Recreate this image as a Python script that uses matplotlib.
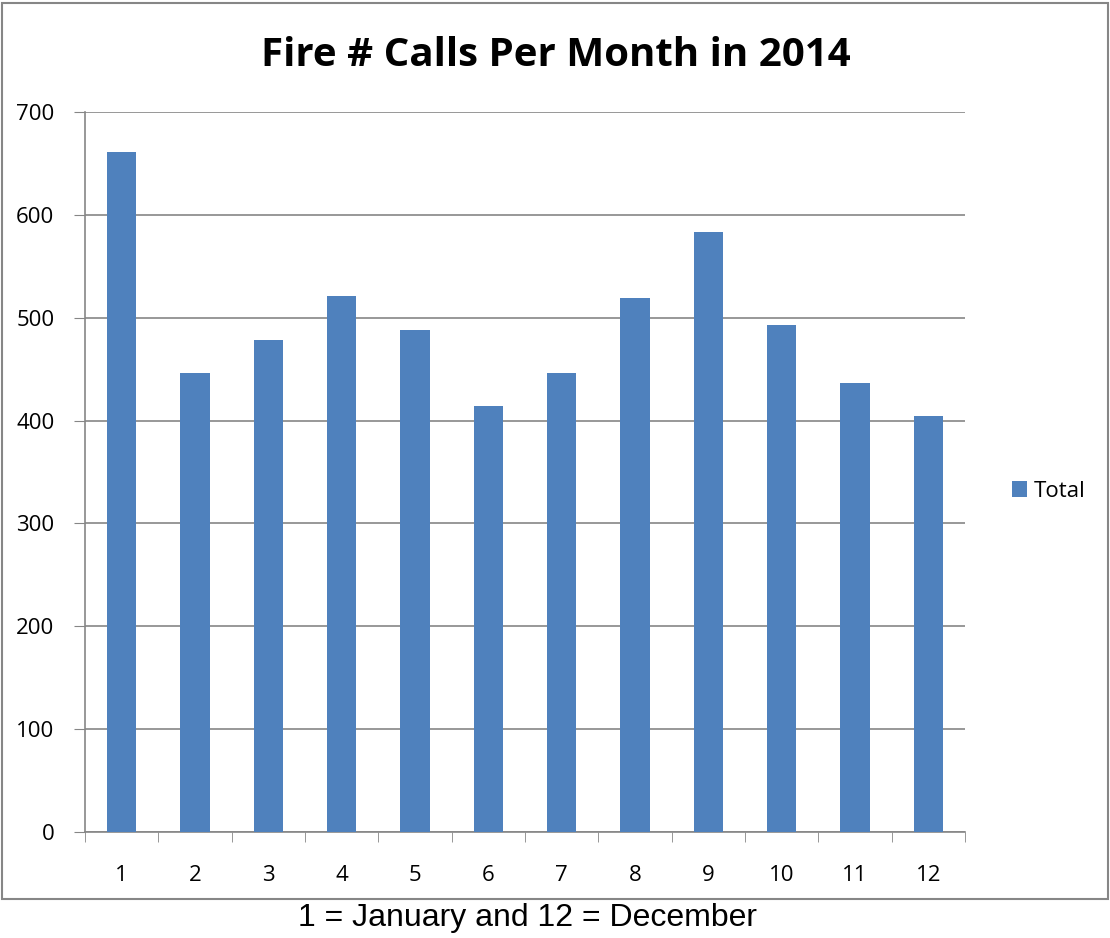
import numpy as np
import matplotlib.pyplot as plt
from matplotlib.patches import Rectangle

months = [str(i) for i in range(1, 13)]
totals = [661, 446, 478, 521, 488, 414, 446, 519, 583, 493, 437, 404]

barColor = '#4F81BD'
gridColor = '#868686'

fig = plt.figure(figsize=(11.1, 9.38), dpi=100)
ax = fig.add_axes([85/1110, 106/938, 880/1110, 720/938])

x = np.arange(len(months))
ax.bar(x, totals, width=0.4, color=barColor, label='Total', zorder=3)

ax.set_xlim(-0.5, len(months) - 0.5)
ax.set_ylim(0, 700)
ax.set_yticks(np.arange(0, 701, 100))
ax.set_xticks(x)
ax.set_xticklabels(months)
ax.set_xticks(np.arange(-0.5, len(months)), minor=True)
ax.tick_params(axis='x', which='major', length=0, pad=24, labelsize=16)
ax.tick_params(axis='x', which='minor', length=7, color=gridColor, direction='out')
ax.tick_params(axis='y', length=8, color=gridColor, pad=14, labelsize=16)
for lbl in ax.get_xticklabels() + ax.get_yticklabels():
    lbl.set_family('Open Sans')

ax.yaxis.grid(True, color=gridColor, linewidth=1.2, zorder=0)
ax.set_axisbelow(True)
for s in ['top', 'right']:
    ax.spines[s].set_visible(False)
for s in ['left', 'bottom']:
    ax.spines[s].set_color(gridColor)
    ax.spines[s].set_linewidth(1.2)

fig.text(556/1110, 1 - 55/938, 'Fire # Calls Per Month in 2014', ha='center', va='center',
         fontsize=29, fontweight='bold', family='Open Sans')

leg = fig.legend(loc='center left', bbox_to_anchor=(1003/1110, 1 - 491/938), frameon=False,
                 prop={'family': 'Open Sans', 'size': 16}, handlelength=0.7, handleheight=0.7,
                 handletextpad=0.3, borderaxespad=0)

fig.patches.append(Rectangle((2/1110, 1 - 899/938), 1106/1110, 896/938, transform=fig.transFigure,
                             fill=False, edgecolor=gridColor, linewidth=1.5))

fig.text(527/1110, 1 - 918/938, '1 = January and 12 = December', ha='center', va='center',
         fontsize=23, family='Liberation Sans')

fig.savefig('out.png', dpi=100)
